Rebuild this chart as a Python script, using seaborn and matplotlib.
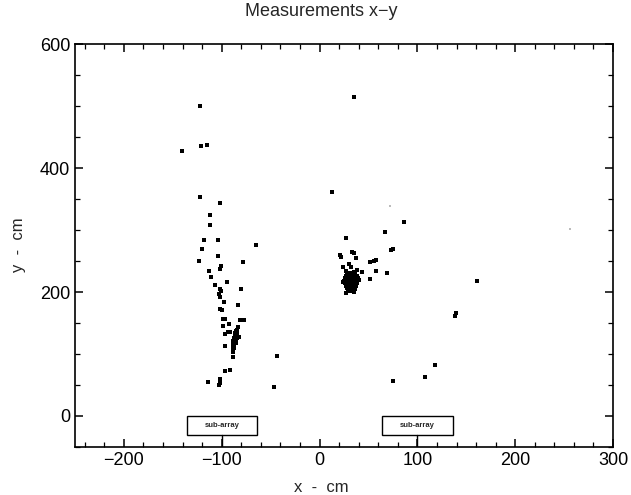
import matplotlib
matplotlib.use('Agg')
import matplotlib.pyplot as plt
import seaborn as sns
import numpy as np
import pandas as pd
from matplotlib.patches import Rectangle
from matplotlib.ticker import MultipleLocator

# --- measured hit positions (cm), read off the scan ---
# left branch (sub-array 1 side)
x_branch = [-122.7, -121.7, -114.9, -140.3, -122.4, -101.3, -111.8, -111.8, -118.3, -104.1,
            -65.4, -120.4, -103.7, -123.4, -77.9, -100.3, -102.3, -112.8, -111.5, -94.5,
            -106.7, -102.0, -100.6, -103.1, -101.3, -80.2, -98.0, -83.7, -101.6, -100.0,
            -99.0, -96.9, -81.7, -77.6, -98.3, -92.5, -83.7, -84.7, -96.9, -93.9,
            -91.1, -82.7, -96.5, -88.8, -43.3, -97.0, -91.4, -101.3, -102.3, -102.6,
            -113.8, -46.6]
y_branch = [500.0, 435.5, 436.6, 427.4, 352.7, 343.5, 323.7, 307.6, 283.9, 283.4,
            275.3, 269.8, 258.0, 249.5, 248.4, 242.4, 237.6, 233.9, 223.7, 216.6,
            210.8, 205.3, 201.1, 197.3, 192.4, 204.8, 184.4, 179.5, 172.6, 170.5,
            156.5, 156.0, 155.3, 154.4, 144.7, 147.9, 143.5, 138.7, 131.8, 135.0,
            135.0, 127.9, 112.9, 94.7, 96.8, 73.0, 74.2, 59.7, 52.7, 49.5,
            54.8, 46.3]

# dense streak at the bottom of the branch
x_streak = [-85, -86, -84, -86, -85, -87, -86, -85, -87, -86,
            -88, -87, -88, -87, -89, -88, -89, -84, -85, -88]
y_streak = [137, 134, 132, 130, 128, 126, 124, 122, 120, 118,
            116, 113, 111, 109, 107, 105, 103, 126, 117, 121]

# central cluster (sub-array 2 side)
x_cluster = [86.4, 67.0, 27.0, 32.8, 35.1, 20.9, 21.9, 37.5, 72.8, 75.2,
             51.4, 55.8, 57.8, 30.0, 32.4, 24.2, 37.9, 36.2, 43.3, 57.2,
             69.4, 51.4, 24.2, 26.7, 34.8,
             28, 31, 34, 36, 27, 30, 33, 35, 38, 26,
             29, 32, 34, 37, 39, 25, 28, 30, 32, 35,
             37, 40, 26, 29, 31, 33, 36, 38, 27, 30,
             32, 34, 37, 28, 31, 33, 36, 29, 32, 35,
             30, 33, 31, 34, 29, 35, 27]
y_cluster = [313.4, 296.3, 286.6, 265.0, 263.4, 260.2, 256.0, 254.3, 267.7, 269.4,
             247.9, 250.5, 251.6, 244.7, 240.8, 239.8, 235.5, 232.7, 232.7, 234.4,
             231.1, 220.5, 216.6, 198.9, 200.5,
             230, 231, 229, 228, 226, 226, 225, 224, 226, 222,
             222, 221, 222, 221, 223, 218, 218, 217, 218, 217,
             218, 219, 214, 214, 213, 214, 213, 214, 210, 209,
             210, 209, 210, 206, 205, 206, 205, 202, 201, 203,
             220, 216, 224, 212, 211, 233, 234]

# isolated hits
x_single = [160.7, 139.3, 138.7, 118.3, 107.7, 75.2, 13.0, 35.1]
y_single = [218.2, 165.6, 161.3, 82.3, 63.4, 56.9, 361.8, 514.5]

# very faint specks on the scan
x_faint = [72.5, 255.9]
y_faint = [338.7, 301.0]

subarray_x = [-100, 100]

df = pd.DataFrame({
    "x": x_branch + x_streak + x_cluster + x_single,
    "y": y_branch + y_streak + y_cluster + y_single,
})
faint = pd.DataFrame({"x": x_faint, "y": y_faint})

sns.set_style("ticks")
plt.rcParams['font.family'] = ['Liberation Sans', 'DejaVu Sans']

fig = plt.figure(figsize=(6.31, 4.95), dpi=100)
ax = fig.add_axes([0.1189, 0.097, 0.8526, 0.814])

sns.scatterplot(data=faint, x="x", y="y", s=3, color="#bbbbbb", marker="s",
                linewidth=0, ax=ax, zorder=3)
sns.scatterplot(data=df, x="x", y="y", s=6, color="black", marker="s",
                linewidth=0, ax=ax, zorder=4)

# sub-array boxes below the beam region
for cx in subarray_x:
    ax.add_patch(Rectangle((cx - 36, -30), 72, 30, facecolor="white",
                           edgecolor="black", linewidth=1.0, zorder=5))
    ax.plot([cx, cx], [-50, -30], color="black", linewidth=1.0, zorder=5)
    ax.text(cx, -15, "sub-array", ha="center", va="center", fontsize=5.5,
            fontweight="bold", zorder=6)

ax.set_xlim(-250, 300)
ax.set_ylim(-50, 600)
ax.xaxis.set_major_locator(MultipleLocator(100))
ax.xaxis.set_minor_locator(MultipleLocator(20))
ax.yaxis.set_major_locator(MultipleLocator(200))
ax.yaxis.set_minor_locator(MultipleLocator(50))
ax.tick_params(which="both", direction="in", top=True, right=True,
               labelsize=13, color="black", labelcolor="black")
ax.tick_params(which="major", length=6, width=1.1)
ax.tick_params(which="minor", length=3.5, width=0.9)
for sp in ax.spines.values():
    sp.set_linewidth(1.2)
    sp.set_color("black")

ax.set_xlabel("")
ax.set_ylabel("")
fig.text(321 / 631, 1 - 12 / 495, "Measurements x\u2212y", ha="center",
         va="center", fontsize=13)
fig.text(321 / 631, 1 - 487 / 495, "x  -  cm", ha="center", va="center",
         fontsize=12)
fig.text(18 / 631, 1 - 245 / 495, "y  -  cm", ha="center", va="center",
         rotation=90, fontsize=12)

fig.savefig("out.png", dpi=100, facecolor="white")
